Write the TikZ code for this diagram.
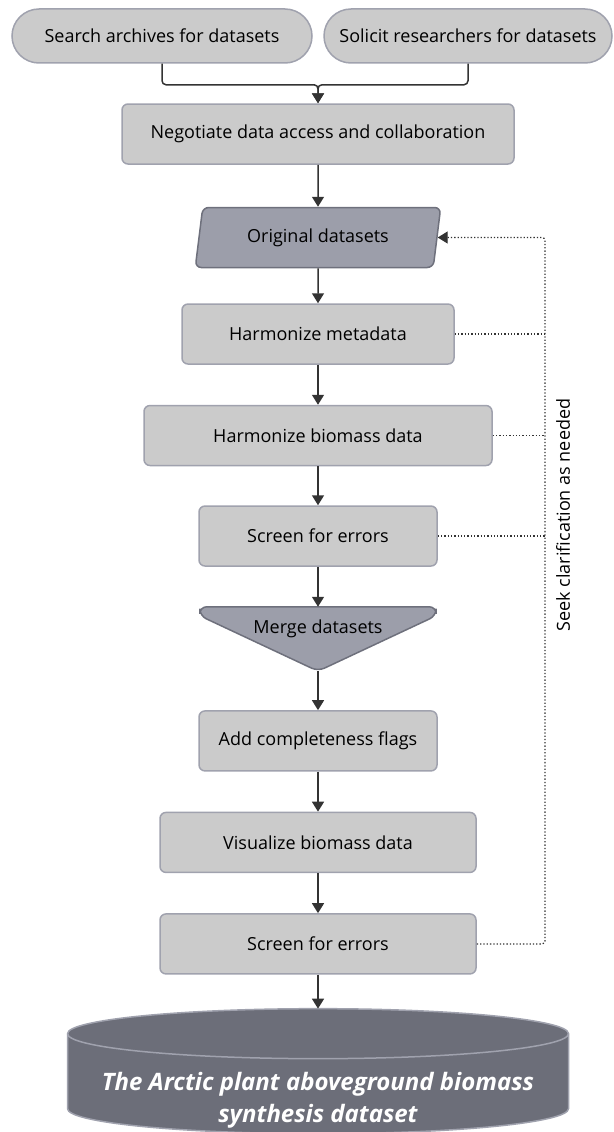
\documentclass[tikz,border=0pt]{standalone}
\usepackage{fontspec}
\setmainfont{Open Sans}
\usetikzlibrary{arrows.meta,positioning,shapes.geometric,backgrounds}
\definecolor{boxfill}{HTML}{CBCBCB}
\definecolor{boxedge}{HTML}{A0A2AE}
\definecolor{slatefill}{HTML}{9C9EAA}
\definecolor{slateedge}{HTML}{6E707C}
\definecolor{drumfill}{HTML}{6C6E79}
\definecolor{inkdark}{HTML}{333333}

\begin{document}
\begin{tikzpicture}[x=1pt,y=1pt,font=\fontsize{18}{22}\selectfont,node distance=40pt,
  procbox/.style={rounded corners=6pt,draw=boxedge,fill=boxfill,line width=1.5pt,minimum height=60pt,inner sep=2pt},
  pill/.style={rounded corners=27pt,draw=boxedge,fill=boxfill,line width=1.5pt,minimum height=54pt,inner sep=2pt},
  datain/.style={trapezium,trapezium left angle=79,trapezium right angle=101,trapezium stretches=true,rounded corners=6pt,draw=slateedge,fill=slatefill,line width=1.5pt,minimum width=246pt,minimum height=60pt},
  mergebox/.style={draw=slateedge,fill=slatefill,line width=1.5pt,rounded corners=7pt},
  drum/.style={draw=boxedge,fill=drumfill,line width=1.5pt},
  drumtext/.style={align=center,text=white,font=\fontsize{24}{32}\selectfont\bfseries\itshape},
  arr/.style={-{Triangle[length=10pt,width=12pt]},inkdark,line width=1.5pt},
  fb/.style={dotted,inkdark,line width=1.3pt}]
  \useasboundingbox (0,0) rectangle (613,-1132);
  \node[pill,minimum width=300pt] (search) at (162,-36) {Search archives for datasets};
  \node[pill,minimum width=288pt] (solicit) at (468,-36) {Solicit researchers for datasets};
  \node[procbox,minimum width=392pt] (neg) at (318,-134) {Negotiate data access and collaboration};
  \node[datain,below=42pt of neg] (orig) {Original datasets};
  \node[procbox,minimum width=272pt,below=35pt of orig] (meta) {Harmonize metadata};
  \node[procbox,minimum width=348pt,below=of meta] (bmass) {Harmonize biomass data};
  \node[procbox,minimum width=238pt,below=39pt of bmass] (screenA) {Screen for errors};
  \node[minimum width=236pt,minimum height=44pt,inner sep=0pt,below=of screenA] (merge) {Merge datasets};
  \coordinate[below=20pt of merge] (mergetip);
  \node[procbox,minimum width=238pt,below=39pt of mergetip] (flags) {Add completeness flags};
  \node[procbox,minimum width=316pt,below=40pt of flags] (vis) {Visualize biomass data};
  \node[procbox,minimum width=316pt,below=of vis] (screenB) {Screen for errors};
  \coordinate[below=34pt of screenB] (drumtop);
  \node[drumtext] (synth) at ([yshift=-92pt]drumtop) {The Arctic plant aboveground biomass\\synthesis dataset};
  \begin{scope}[on background layer]
    \draw[mergebox] (merge.north west) -- (merge.north east) -- ([yshift=-9pt]merge.north east) -- (mergetip)
      -- ([yshift=-9pt]merge.north west) -- cycle;
    \draw[drum] ([shift={(-250.5,-25)}]drumtop) -- ++(0,-75) arc[start angle=180,end angle=360,x radius=250.5,y radius=25]
      -- ++(0,75) arc[start angle=0,end angle=180,x radius=250.5,y radius=25] -- cycle;
    \draw[drum,fill=none] ([shift={(-250.5,-25)}]drumtop) arc[start angle=180,end angle=360,x radius=250.5,y radius=25];
  \end{scope}
  % sources join before the negotiation step
  \draw[arr,rounded corners=4pt](search.south) -- ++(0,-21) -| (neg.north);
  \draw[arr,rounded corners=4pt](solicit.south) -- ++(0,-21) -| (neg.north);
  \draw[arr](neg)--(orig); \draw[arr](orig)--(meta); \draw[arr](meta)--(bmass); \draw[arr](bmass)--(screenA);
  \draw[arr](screenA)--(merge); \draw[arr](mergetip)--(flags); \draw[arr](flags)--(vis); \draw[arr](vis)--(screenB);
  \draw[arr](screenB)--(drumtop);
  % feedback loop
  \coordinate (fbx) at (545,0);
  \draw[fb](meta.east) -- (meta.east -| fbx); \draw[fb](bmass.east) -- (bmass.east -| fbx); \draw[fb](screenA.east) -- (screenA.east -| fbx);
  \draw[fb,rounded corners=3pt,-{Triangle[length=10pt,width=12pt]}](screenB.east) -| (fbx |- orig.east) -- (orig.east);
  \node[rotate=90] (seek) at (563,-515) {Seek clarification as needed};
\end{tikzpicture}
\end{document}
